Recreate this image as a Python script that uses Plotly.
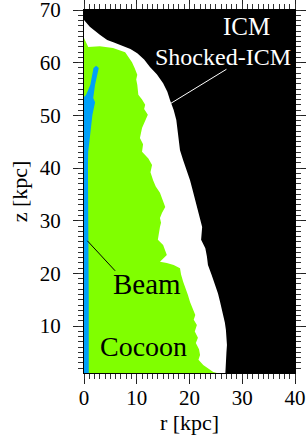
import plotly.graph_objects as go

# Outer boundary of the shocked ICM (r, z in kpc)
shock_r = [0, 1.1, 3.0, 4.4, 5.8, 7.4, 8.8, 10.1, 11.4, 12.5, 13.8, 15.0, 15.8, 16.3, 17.0, 17.5, 17.9, 18.2,
           18.8, 19.5, 20.1, 20.6, 21.1, 21.6, 22.0, 22.4, 22.2, 23.0, 23.3, 23.5, 24.2, 24.9, 25.4, 25.8,
           26.4, 26.7, 26.9, 27.1, 27.0, 26.9, 26.8, 26.8, 0]
shock_z = [68.1, 66.8, 65.3, 64.3, 63.8, 63.2, 62.6, 61.8, 60.6, 59.2, 57.8, 56.1, 54.5, 52.9, 51.0, 49.1, 46.0, 43.4,
           41.5, 39.5, 37.7, 35.8, 33.9, 32.2, 30.5, 28.8, 26.4, 24.8, 23.2, 21.6, 19.7, 17.8, 16.2, 14.6,
           12.1, 10.7, 9.3, 6.4, 5.0, 3.6, 1.1, 0, 0]

# Cocoon (green) boundary
cocoon_r = [0, 0.8, 3.0, 5.5, 7.8, 8.4, 9.1, 9.6, 10.1, 9.9, 10.1, 10.3, 11.0, 11.6, 11.4, 12.1, 11.5, 11.0,
            10.6, 11.2, 11.0, 12.2, 12.9, 12.6, 13.1, 13.6, 14.4, 14.9, 15.4, 14.8, 14.4, 14.6, 14.4, 14.0,
            15.0, 15.7, 14.4, 15.7, 17.0, 18.2, 18.4, 18.8, 19.3, 19.7, 20.1, 20.5, 21.1, 20.8, 21.4, 21.0,
            21.6, 21.2, 21.8, 22.0, 21.7, 22.6, 23.5, 24.5, 25.2, 25.6, 0]
cocoon_z = [64.7, 63.0, 63.1, 62.8, 62.0, 61.2, 60.1, 59.0, 57.7, 56.8, 55.8, 53.9, 53.0, 52.0, 51.2, 50.1, 48.8, 47.6,
            45.7, 44.5, 43.1, 41.8, 40.6, 39.2, 37.7, 36.5, 35.3, 34.0, 32.6, 31.5, 30.5, 29.6, 28.8, 26.4,
            25.4, 23.5, 22.2, 22.0, 21.6, 21.0, 19.8, 18.4, 17.1, 15.9, 14.6, 13.5, 12.1, 11.2, 10.2, 9.0,
            7.8, 6.8, 5.6, 4.5, 3.6, 2.6, 1.9, 1.3, 1.1, 0, 0]

# Beam (blue) boundary
beam_r = [0, 0.9, 0.9, 0.8, 0.75, 0.8, 1.0, 1.3, 1.6, 2.1, 1.75, 2.1, 2.6, 2.8, 2.3, 1.8, 1.2, 0.4, 0]
beam_z = [0, 0, 15.0, 24.5, 40.6, 43.1, 45.0, 47.5, 50.1, 52.5, 53.3, 55.8, 57.7, 59.0, 59.4, 59.0, 55.8, 53.9, 53.5]

# Labels
label_text = ["ICM", "Shocked-ICM", "Beam", "Cocoon"]
label_r = [30.8, 26.4, 11.9, 11.3]
label_z = [66.9, 61.0, 18.0, 6.15]
label_size = [25, 24, 29, 28]
label_color = ["white", "white", "black", "black"]

# Pointer lines
shock_ptr_r = [27.0, 16.0]
shock_ptr_z = [58.75, 52.0]
beam_ptr_r = [5.9, 0.63]
beam_ptr_z = [20.5, 26.2]

R_RANGE = [0, 40]
Z_RANGE = [1.1, 70]
FONT = "Liberation Serif"

fig = go.Figure()
fig.add_trace(go.Scatter(x=shock_r, y=shock_z, mode="lines", fill="toself", fillcolor="white",
                         line=dict(width=0, color="white"), hoverinfo="skip"))
fig.add_trace(go.Scatter(x=cocoon_r, y=cocoon_z, mode="lines", fill="toself", fillcolor="#80ff00",
                         line=dict(width=0, color="#80ff00"), hoverinfo="skip"))
fig.add_trace(go.Scatter(x=beam_r, y=beam_z, mode="lines", fill="toself", fillcolor="#00a0f8",
                         line=dict(width=0, color="#00a0f8"), hoverinfo="skip"))
# pointer lines live on the overlay (minor-tick) axes, which share the same ranges
fig.add_trace(go.Scatter(x=shock_ptr_r, y=shock_ptr_z, mode="lines", xaxis="x2", yaxis="y2",
                         line=dict(width=1, color="white"), hoverinfo="skip"))
fig.add_trace(go.Scatter(x=beam_ptr_r, y=beam_ptr_z, mode="lines", xaxis="x2", yaxis="y2",
                         line=dict(width=1, color="black"), hoverinfo="skip"))

for t, r, z, s, c in zip(label_text, label_r, label_z, label_size, label_color):
    fig.add_annotation(x=r, y=z, text=t, showarrow=False, xanchor="center", yanchor="middle",
                       font=dict(family=FONT, size=s, color=c))

major = dict(
    showgrid=False, zeroline=False, showline=True, linecolor="black", linewidth=1,
    mirror="allticks", ticks="outside", ticklen=10, tickwidth=1, tickcolor="#222",
    tickfont=dict(family=FONT, size=21, color="black"),
    ticklabeloverflow="allow", dtick=10, tick0=0, automargin=False,
)
minor = dict(
    showgrid=False, zeroline=False, showline=True, linecolor="black", linewidth=1,
    mirror="allticks", ticks="outside", ticklen=5, tickwidth=1, tickcolor="#333",
    showticklabels=False, dtick=1, tick0=0, automargin=False,
)

fig.update_layout(
    width=307, height=437,
    margin=dict(l=84, r=12, t=10, b=64, autoexpand=False),
    paper_bgcolor="white", plot_bgcolor="black",
    showlegend=False,
    xaxis=dict(range=R_RANGE, ticklabelstandoff=-4,
               title=dict(text="r [kpc]", font=dict(family=FONT, size=22, color="black"), standoff=2),
               **major),
    yaxis=dict(range=Z_RANGE, ticklabelstandoff=8,
               title=dict(text="z [kpc]", font=dict(family=FONT, size=22, color="black"), standoff=6),
               **major),
    xaxis2=dict(range=R_RANGE, overlaying="x", anchor="y2", side="bottom", **minor),
    yaxis2=dict(range=Z_RANGE, overlaying="y", anchor="x2", side="left", **minor),
)

fig.write_html("out.html", config={"displayModeBar": False},
               post_script="document.body.style.margin='0px';")
